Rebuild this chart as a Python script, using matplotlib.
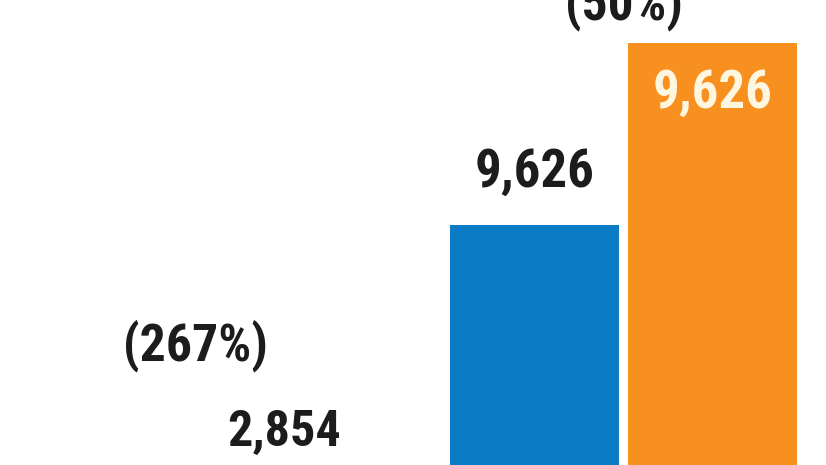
import matplotlib
matplotlib.use("Agg")
import matplotlib.pyplot as plt
from matplotlib import font_manager

# --- data ---
groups = [0, 1]
blue_values = [None, 9626]          # left bar of each group (group 0 not visible)
orange_values = [2854, 14439]       # right bar of each group
blue_labels = ["", "9,626"]
orange_labels = ["2,854", "9,626"]
pct_labels = ["(267%)", "(50%)"]

BLUE = "#0A7BC4"
ORANGE = "#F7901E"
TEXT = "#1c1c1c"

# choose a condensed bold font if one is installed
entries = font_manager.fontManager.ttflist
font = None
stretch = "normal"
for cand in ["Liberation Sans Narrow", "Roboto Condensed", "Open Sans Condensed",
             "Open Sans", "Noto Sans", "DejaVu Sans"]:
    cond = [f for f in entries if f.name == cand and
            (str(f.stretch) in ("condensed", "semi-condensed", "extra-condensed") or
             (isinstance(f.stretch, int) and f.stretch < 500))]
    if cond:
        font, stretch = cand, "condensed"
        break
if font is None:
    for cand in ["Liberation Sans Narrow", "Roboto Condensed"]:
        if any(f.name == cand for f in entries):
            font = cand
            break
if font is None:
    font = "Roboto"

fig = plt.figure(figsize=(8.26, 4.65), dpi=100)
ax = fig.add_axes([0, -0.2667, 1, 1.2606])
ax.set_xlim(-0.455, 1.4726)
ax.set_ylim(0, 15500)
ax.axis("off")

texts = []  # (text artist, target width px)


def label(s, xy, dy, color, target_w):
    t = ax.annotate(s, xy, xytext=(0, dy), textcoords="offset pixels",
                    ha="center", va="center", fontsize=30, fontweight="bold",
                    family=font, fontstretch=stretch, color=color)
    texts.append((t, target_w))


w = 0.3944
off = 0.2077
for g, bv, ov, bl, ol in zip(groups, blue_values, orange_values, blue_labels, orange_labels):
    if bv is not None:
        ax.bar(g - off, bv, width=w, color=BLUE)
        label(bl, (g - off, bv), 53, TEXT, 120)
    ax.bar(g + off, ov, width=w, color=ORANGE)
    if g == 1:
        label(ol, (g + off, ov), -50, "#FFF6E0", 120)
    else:
        label(ol, (g + off, ov), 49, TEXT, 114)

pct_offsets = [135, 38]
pct_widths = [145, 118]
for g, ov, pl, dy, tw in zip(groups, orange_values, pct_labels, pct_offsets, pct_widths):
    label(pl, (g, ov), dy, TEXT, tw)

# fit font size to the reference text widths, capped by the reference height
r = fig.canvas.get_renderer()
for t, tw in texts:
    bb = t.get_window_extent(r)
    size = 30 * tw / bb.width
    t.set_fontsize(min(size, 38))

fig.savefig("out.png", dpi=100)
